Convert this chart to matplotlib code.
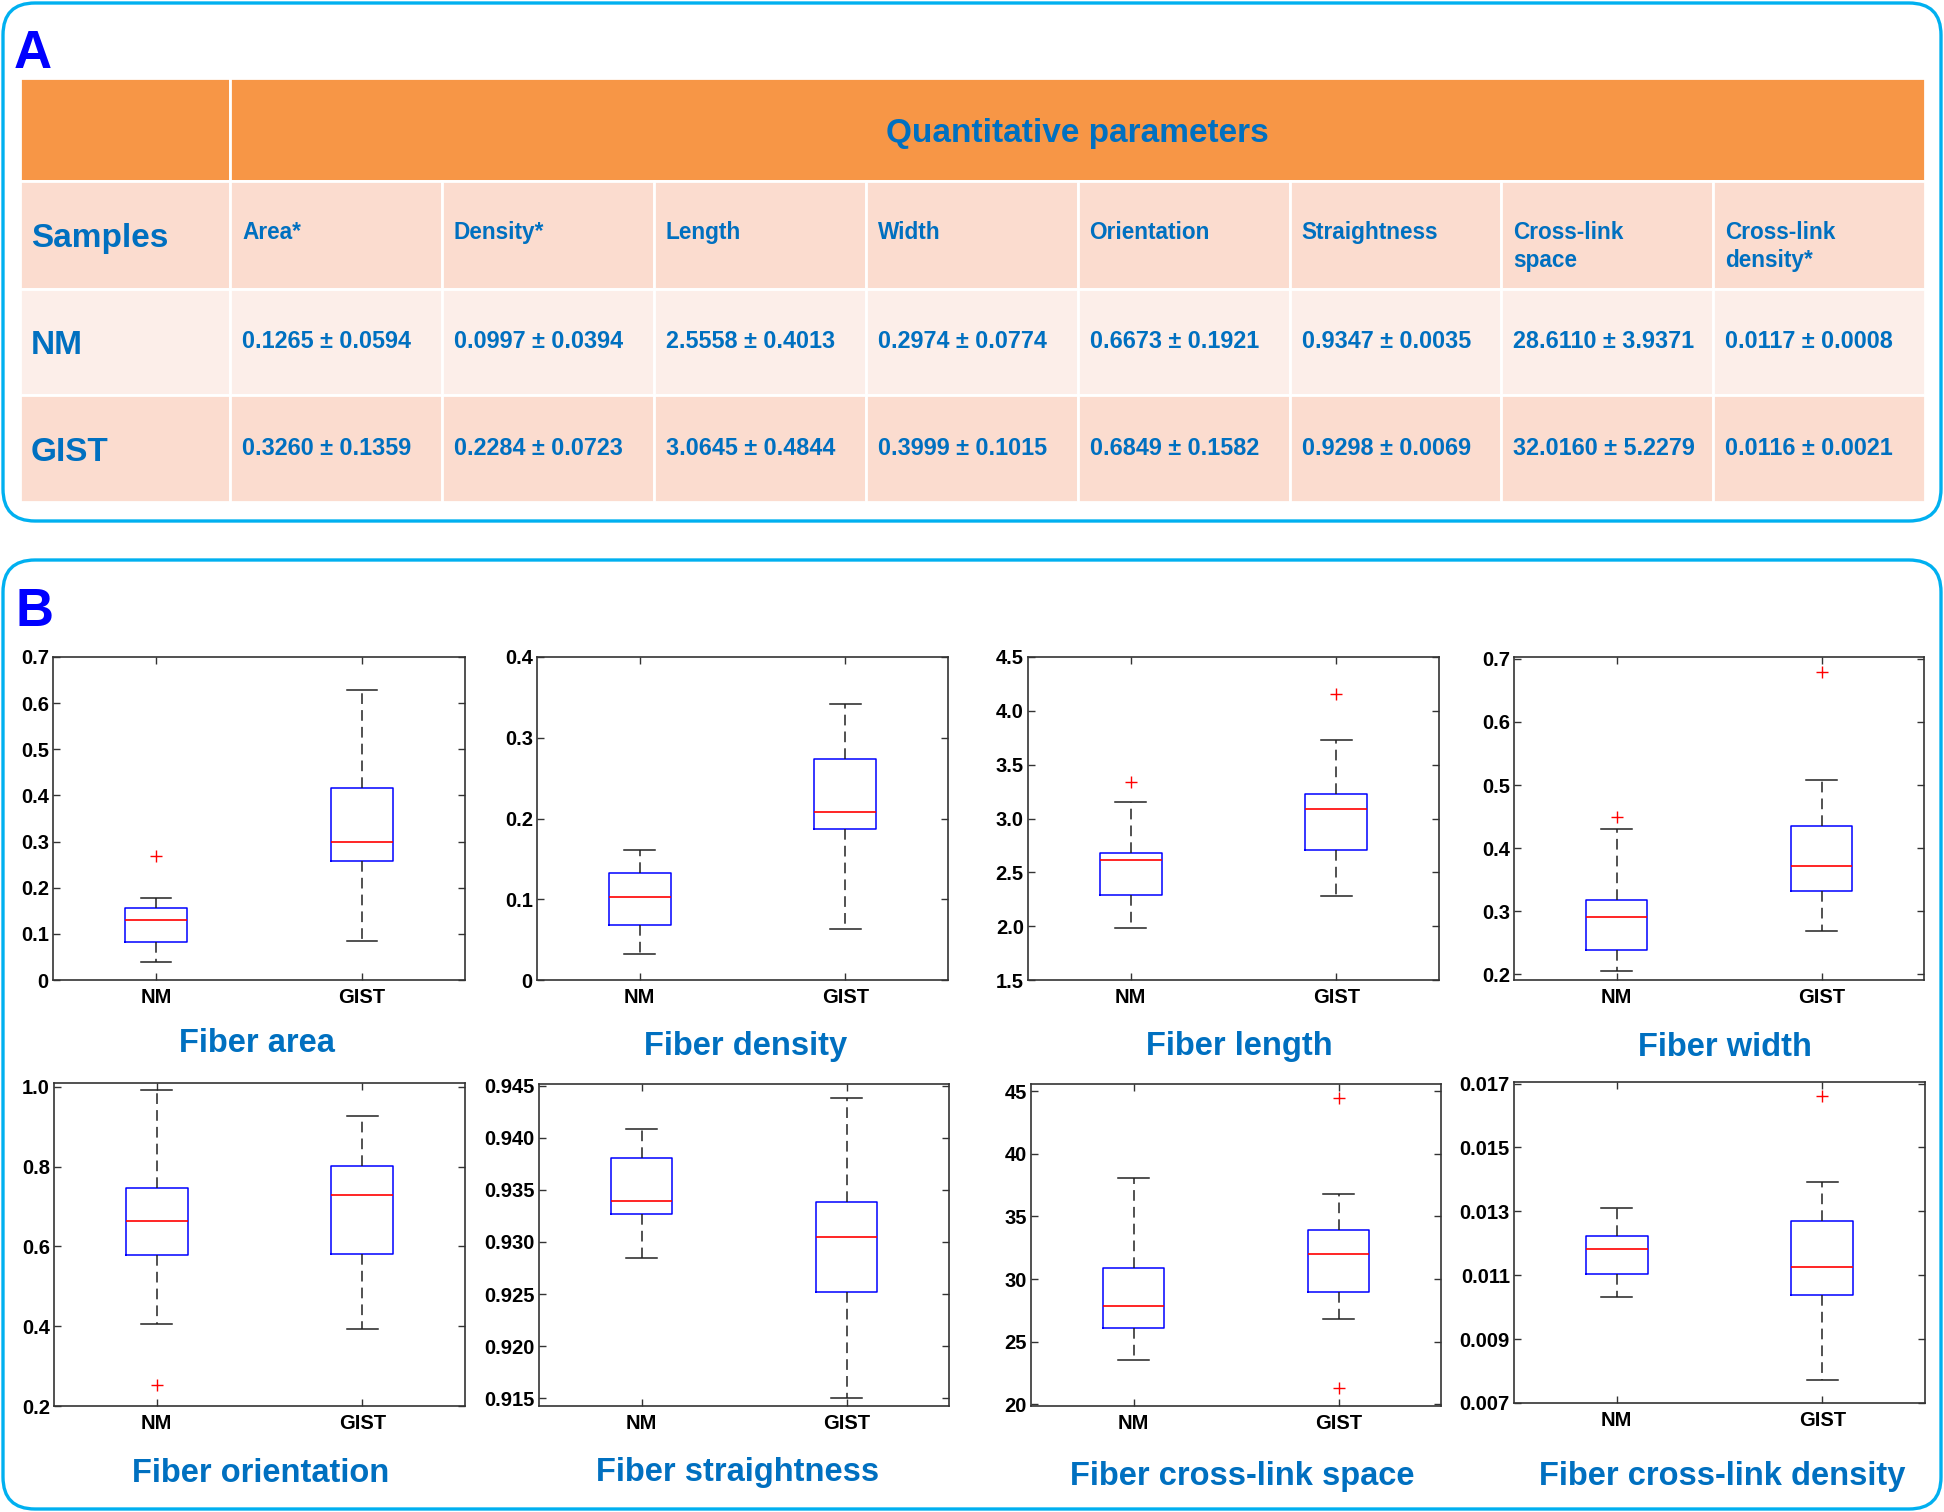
import numpy as np
import matplotlib.pyplot as plt
from matplotlib.patches import Rectangle, FancyBboxPatch

plt.rcParams['font.family'] = ['Liberation Sans', 'DejaVu Sans']
plt.rcParams['font.weight'] = 'bold'

# ---- table (panel A) ----
groups = ['NM', 'GIST']
params = ['Area*', 'Density*', 'Length', 'Width', 'Orientation',
          'Straightness', 'Cross-link\nspace', 'Cross-link\ndensity*']
nm_mean = ['0.1265', '0.0997', '2.5558', '0.2974', '0.6673', '0.9347', '28.6110', '0.0117']
nm_sd = ['0.0594', '0.0394', '0.4013', '0.0774', '0.1921', '0.0035', '3.9371', '0.0008']
gist_mean = ['0.3260', '0.2284', '3.0645', '0.3999', '0.6849', '0.9298', '32.0160', '0.0116']
gist_sd = ['0.1359', '0.0723', '0.4844', '0.1015', '0.1582', '0.0069', '5.2279', '0.0021']

# ---- box plot summaries (panel B) ----
titles = ['Fiber area', 'Fiber density', 'Fiber length', 'Fiber width',
          'Fiber orientation', 'Fiber straightness', 'Fiber cross-link space',
          'Fiber cross-link density']
# [whislo, q1, med, q3, whishi]
nm_box = [[0.038, 0.083, 0.130, 0.157, 0.177],
          [0.032, 0.068, 0.103, 0.132, 0.161],
          [1.98, 2.29, 2.61, 2.675, 3.157],
          [0.205, 0.239, 0.291, 0.318, 0.430],
          [0.405, 0.579, 0.664, 0.747, 0.992],
          [0.92846, 0.93266, 0.93390, 0.93806, 0.94086],
          [23.51, 26.06, 27.87, 30.90, 38.06],
          [0.01031, 0.01103, 0.01182, 0.01224, 0.01309]]
gist_box = [[0.085, 0.257, 0.300, 0.417, 0.629],
            [0.063, 0.187, 0.208, 0.274, 0.342],
            [2.277, 2.712, 3.085, 3.228, 3.732],
            [0.268, 0.332, 0.372, 0.435, 0.508],
            [0.394, 0.582, 0.728, 0.802, 0.928],
            [0.91503, 0.92516, 0.93048, 0.93384, 0.94385],
            [26.81, 28.94, 32.03, 33.94, 36.81],
            [0.00773, 0.01038, 0.01126, 0.01270, 0.01392]]
nm_out = [[0.269], [], [3.34], [0.450], [0.252], [], [], []]
gist_out = [[], [], [4.16], [0.680], [], [], [21.33, 44.41], [0.016625]]

yticks = [[0, 0.1, 0.2, 0.3, 0.4, 0.5, 0.6, 0.7],
          [0, 0.1, 0.2, 0.3, 0.4],
          [1.5, 2.0, 2.5, 3.0, 3.5, 4.0, 4.5],
          [0.2, 0.3, 0.4, 0.5, 0.6, 0.7],
          [0.2, 0.4, 0.6, 0.8, 1.0],
          [0.915, 0.920, 0.925, 0.930, 0.935, 0.940, 0.945],
          [20, 25, 30, 35, 40, 45],
          [0.007, 0.009, 0.011, 0.013, 0.015, 0.017]]
yfmt = ['%g', '%g', '%.1f', '%.1f', '%.1f', '%.3f', '%d', '%.3f']
ylims = [(0, 0.7), (0, 0.4), (1.5, 4.5), (0.191, 0.703), (0.2, 1.01),
         (0.91426, 0.94516), (19.87, 45.56), (0.007, 0.01705)]

W, H = 1944, 1512
blue_txt = '#0070C0'
frame = '#00B0F0'

fig = plt.figure(figsize=(W / 100, H / 100), dpi=100)
bg = fig.add_axes([0, 0, 1, 1])
bg.set_xlim(0, W)
bg.set_ylim(H, 0)
bg.axis('off')

# rounded panel frames
for y0, y1 in [(3, 521), (560, 1509)]:
    bg.add_patch(FancyBboxPatch((3, y0), W - 6, y1 - y0,
                                boxstyle='round,pad=0,rounding_size=32',
                                fc='none', ec=frame, lw=2.4))
bg.text(14, 68, 'A', color='#0000FF', fontsize=38, fontweight='bold', va='baseline')
bg.text(15, 626, 'B', color='#0000FF', fontsize=38, fontweight='bold', va='baseline')

# table
col_x = [20, 230] + [230 + 211.9 * (i + 1) for i in range(len(params))]
row_y = [78, 181, 289, 395, 502]
orange, peach, light = '#F79646', '#FBDCCF', '#FCEEE9'

def cell(x0, x1, y0, y1, color):
    bg.add_patch(Rectangle((x0, y0), x1 - x0, y1 - y0, fc=color, ec='white', lw=2))

cell(col_x[0], col_x[1], row_y[0], row_y[1], orange)
cell(col_x[1], col_x[-1], row_y[0], row_y[1], orange)
bg.text((col_x[1] + col_x[-1]) / 2, (row_y[0] + row_y[1]) / 2 + 4, 'Quantitative parameters',
        color=blue_txt, fontsize=24, ha='center', va='center')

row_colors = [peach, light, peach]
first_col = ['Samples'] + groups
for r in range(3):
    y0, y1 = row_y[r + 1], row_y[r + 2]
    for c in range(len(col_x) - 1):
        cell(col_x[c], col_x[c + 1], y0, y1, row_colors[r])
    bg.text(col_x[0] + 11, (y0 + y1) / 2 + 4, first_col[r], color=blue_txt,
            fontsize=24, ha='left', va='center')

for c, p in enumerate(params):
    bg.text(col_x[c + 1] + 12, 221, p, color=blue_txt, fontsize=16.3,
            ha='left', va='top', linespacing=1.25)
    for r, (m, s) in enumerate([(nm_mean, nm_sd), (gist_mean, gist_sd)]):
        yc = (row_y[r + 2] + row_y[r + 3]) / 2
        bg.text(col_x[c + 1] + 12, yc, m[c] + ' \u00b1 ' + s[c], color=blue_txt,
                fontsize=16.8, ha='left', va='center')

# box plots
ax_px = [(53, 465, 657, 980), (537, 948, 657, 980), (1028, 1439, 657, 980), (1514, 1924, 657, 980),
         (54, 465, 1083, 1406), (539, 949, 1084, 1406), (1031, 1441, 1084, 1406), (1514, 1925, 1082, 1403)]
title_xy = [(257, 1043), (746, 1047), (1239, 1047), (1725, 1047),
            (261, 1474), (738, 1473), (1242, 1477), (1722, 1476)]

for i in range(8):
    x0, x1, y0, y1 = ax_px[i]
    ax = fig.add_axes([x0 / W, 1 - y1 / H, (x1 - x0) / W, (y1 - y0) / H])
    stats = []
    for b, f in [(nm_box[i], nm_out[i]), (gist_box[i], gist_out[i])]:
        stats.append(dict(whislo=b[0], q1=b[1], med=b[2], q3=b[3], whishi=b[4], fliers=f))
    ax.bxp(stats, positions=[1, 2], widths=0.3, showfliers=True,
           boxprops=dict(color='#0000FF', lw=1.1),
           medianprops=dict(color='#FF0000', lw=1.2),
           whiskerprops=dict(color='#222222', ls=(0, (7, 4)), lw=1.1),
           capprops=dict(color='#222222', lw=1.1),
           flierprops=dict(marker='+', markeredgecolor='#FF0000', markersize=8,
                           markeredgewidth=1.0, ls='none'))
    ax.set_xlim(0.5, 2.5)
    ax.set_ylim(*ylims[i])
    ax.set_xticks([1, 2])
    ax.set_xticklabels(groups)
    ax.set_yticks(yticks[i])
    ax.set_yticklabels([yfmt[i] % t for t in yticks[i]])
    ax.tick_params(direction='in', length=5, width=1, top=True, right=True,
                   labelsize=14.5, colors='#333333', labelcolor='black', pad=3)
    ax.tick_params(axis='x', pad=6)
    for sp in ax.spines.values():
        sp.set_color('#333333')
        sp.set_linewidth(1.2)
    for lab in ax.get_xticklabels() + ax.get_yticklabels():
        lab.set_fontweight('bold')
    bg.text(title_xy[i][0], title_xy[i][1], titles[i], color=blue_txt,
            fontsize=23.5, ha='center', va='center')

fig.savefig('out.png', dpi=100)
